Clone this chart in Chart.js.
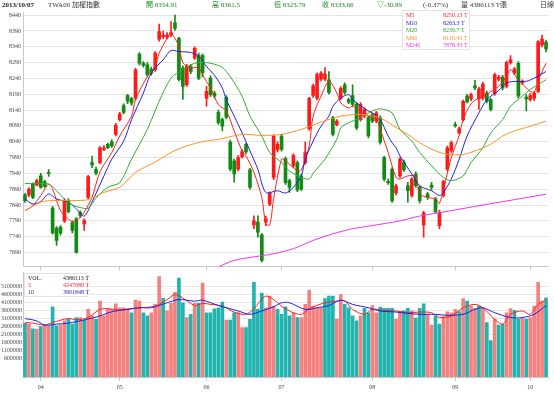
<!DOCTYPE html>
<html>
<head>
<meta charset="utf-8">
<script src="https://cdn.jsdelivr.net/npm/chart.js@4.4.0/dist/chart.umd.min.js"></script>
<style>
  body { margin: 0; background: #fff; }
  #page { position: relative; width: 554px; height: 397px; overflow: hidden; font-family: 'Liberation Serif', 'Noto Sans CJK TC', serif; }
  canvas { position: absolute; left: 0; }
  .hd { position: absolute; top: 1px; font-size: 7px; line-height: 9px; white-space: nowrap; color: #333; }
  .dn { color: #1a8a1a; }
  .lg { position: absolute; background: rgba(255,255,255,0.92); border: 1px solid #e2e2e2; font-size: 6px; line-height: 7px; z-index: 2; }
  .lg span { position: absolute; white-space: nowrap; }
</style>
</head>
<body>
<div id="page">
  <canvas id="priceChart" width="554" height="272" style="top:0"></canvas>
  <canvas id="volChart" width="554" height="129" style="top:268px"></canvas>

  <div class="hd" style="left:2px;font-weight:bold;color:#222">2013/10/07</div>
  <div class="hd" style="left:48px">TWA00 加權指數</div>
  <div class="hd dn" style="left:146px">開 8354.91</div>
  <div class="hd dn" style="left:212px">高 8361.5</div>
  <div class="hd dn" style="left:274px">低 8323.79</div>
  <div class="hd dn" style="left:322px">收 8333.66</div>
  <div class="hd dn" style="left:377px">▽-30.89</div>
  <div class="hd" style="left:423px">(-0.37%)</div>
  <div class="hd" style="left:461px">量 4386113 T張</div>
  <div class="hd" style="left:540px">日線</div>

  <div class="lg" style="left:402px;top:10px;width:66px;height:38px">
    <span style="left:3px;top:1px;color:#ff2020">M5</span><span style="left:40px;top:1px;color:#ff2020">8250.13 T</span>
    <span style="left:3px;top:8.5px;color:#2020dd">M10</span><span style="left:40px;top:8.5px;color:#2020dd">8263.3 T</span>
    <span style="left:3px;top:16px;color:#33aa33">M20</span><span style="left:40px;top:16px;color:#33aa33">8239.7 T</span>
    <span style="left:3px;top:23.5px;color:#ff9020">M60</span><span style="left:40px;top:23.5px;color:#ff9020">8110.45 T</span>
    <span style="left:3px;top:31px;color:#ee33ee">M240</span><span style="left:40px;top:31px;color:#ee33ee">7878.33 T</span>
  </div>

  <div class="lg" style="left:24px;top:273px;width:62px;height:22px">
    <span style="left:3px;top:1px;color:#222">VOL.</span><span style="left:38px;top:1px;color:#222">4386113 T</span>
    <span style="left:3px;top:8px;color:#ff2020">5</span><span style="left:38px;top:8px;color:#ff2020">4247089 T</span>
    <span style="left:3px;top:15px;color:#2020dd">10</span><span style="left:38px;top:15px;color:#2020dd">3901848 T</span>
  </div>
</div>

<script>
// trading days shown (late March to 7 Oct 2013)
const tradeDays = [
    ['03', [26, 27, 28, 29]],
    ['04', [1, 2, 3, 8, 9, 10, 11, 12, 15, 16, 17, 18, 19, 22, 23, 24, 25, 26, 29, 30]],
    ['05', [2, 3, 6, 7, 8, 9, 10, 13, 14, 15, 16, 17, 20, 21, 22, 23, 24, 27, 28, 29, 30, 31]],
    ['06', [3, 4, 5, 6, 7, 10, 11, 13, 14, 17, 18, 19, 20, 21, 24, 25, 26, 27, 28]],
    ['07', [1, 2, 3, 4, 5, 8, 9, 10, 11, 12, 15, 16, 17, 18, 19, 22, 23, 24, 25, 26, 29, 30, 31]],
    ['08', [1, 2, 5, 6, 7, 8, 9, 12, 13, 14, 15, 16, 19, 20, 22, 23, 26, 27, 28, 29, 30]],
    ['09', [2, 3, 4, 5, 6, 9, 10, 11, 12, 13, 16, 17, 18, 23, 24, 25, 26, 27, 30]],
    ['10', [1, 2, 3, 4, 7]]
];

const opens = [
    7872, 7872, 7906, 7903, 7932, 7914, 7943, 7830, 7767, 7770,
    7789, 7854, 7784, 7796, 7817, 7780, 7864, 7974, 7953, 7974,
    8016, 8032, 8040, 8063, 8110, 8154, 8186, 8176, 8178, 8317,
    8288, 8283, 8270, 8268, 8364, 8372, 8370, 8377, 8416, 8367,
    8273, 8220, 8278, 8304, 8314, 8312, 8178, 8241, 8194, 8133,
    8110, 8180, 8039, 7980, 7953, 7993, 8032, 7951, 7777, 7786,
    7746, 7786, 7843, 7927, 8014, 8058, 7987, 7917, 7964, 7974,
    7932, 7974, 8081, 8186, 8178, 8238, 8238, 8236, 8116, 8094,
    8178, 8220, 8173, 8186, 8158, 8110, 8121, 8116, 8126, 8105,
    8116, 7990, 7914, 7953, 7878, 7932, 7976, 7901, 7870, 7938,
    7896, 7777, 7875, 7903, 7859, 7775, 7870, 7953, 8011, 8094,
    8068, 8110, 8184, 8175, 8217, 8175, 8178, 8194, 8173, 8192,
    8238, 8244, 8215, 8290, 8257, 8288, 8226, 8181, 8173, 8178,
    8199, 8346, 8354.91
];
const highs = [
    7877, 7895, 7910, 7922, 7940, 7918, 7952, 7836, 7772, 7775,
    7860, 7860, 7790, 7800, 7822, 7796, 7934, 7995, 7960, 8025,
    8028, 8036, 8046, 8098, 8133, 8160, 8190, 8180, 8272, 8322,
    8293, 8290, 8276, 8325, 8412, 8390, 8385, 8420, 8440, 8370,
    8280, 8285, 8285, 8340, 8320, 8318, 8215, 8248, 8200, 8140,
    8115, 8186, 8045, 7985, 7996, 8015, 8036, 7956, 7806, 7806,
    7750, 7805, 7882, 8062, 8040, 8064, 7992, 7922, 8002, 7980,
    7938, 8040, 8180, 8222, 8258, 8262, 8274, 8262, 8120, 8110,
    8214, 8226, 8178, 8220, 8164, 8164, 8148, 8120, 8130, 8136,
    8122, 7995, 7922, 7958, 7906, 7990, 7982, 7912, 7927, 7945,
    7900, 7820, 7880, 7912, 7864, 7824, 7918, 8026, 8042, 8102,
    8086, 8172, 8190, 8194, 8234, 8212, 8228, 8200, 8178, 8257,
    8250, 8250, 8295, 8312, 8275, 8293, 8236, 8189, 8192, 8198,
    8360, 8377, 8361.5
];
const lows = [
    7848, 7866, 7860, 7900, 7893, 7896, 7930, 7748, 7712, 7745,
    7785, 7815, 7752, 7688, 7800, 7760, 7860, 7958, 7935, 7970,
    8012, 8018, 8022, 8058, 8105, 8128, 8160, 8155, 8172, 8282,
    8276, 8245, 8250, 8262, 8358, 8366, 8365, 8372, 8392, 8232,
    8174, 8215, 8255, 8300, 8236, 8246, 8152, 8183, 8178, 8095,
    8074, 8112, 7948, 7912, 7948, 7988, 8002, 7890, 7765, 7738,
    7660, 7775, 7838, 7920, 8008, 8010, 7905, 7880, 7958, 7882,
    7885, 7968, 8076, 8180, 8172, 8232, 8232, 8190, 8058, 8090,
    8172, 8190, 8160, 8152, 8078, 8105, 8116, 8052, 8100, 8100,
    8032, 7916, 7905, 7848, 7872, 7927, 7946, 7849, 7865, 7896,
    7846, 7738, 7858, 7888, 7814, 7765, 7865, 7948, 8006, 8086,
    8063, 8105, 8163, 8170, 8204, 8142, 8172, 8163, 8137, 8186,
    8232, 8204, 8210, 8285, 8252, 8178, 8220, 8137, 8168, 8170,
    8195, 8340, 8323.79
];
const closes = [
    7854, 7890, 7864, 7917, 7896, 7899, 7940, 7752, 7728, 7751,
    7854, 7819, 7760, 7690, 7807, 7791, 7930, 7967, 7941, 8021,
    8021, 8021, 8027, 8092, 8128, 8133, 8168, 8163, 8267, 8288,
    8281, 8252, 8257, 8320, 8388, 8377, 8377, 8385, 8398, 8236,
    8215, 8278, 8262, 8335, 8241, 8258, 8199, 8189, 8184, 8100,
    8089, 8118, 7953, 7938, 7990, 8009, 8008, 7896, 7790, 7754,
    7665, 7796, 7878, 8058, 8032, 8016, 7911, 7896, 7997, 7888,
    7890, 8006, 8176, 8217, 8252, 8257, 8254, 8196, 8063, 8105,
    8209, 8196, 8165, 8158, 8084, 8158, 8142, 8058, 8105, 8131,
    8039, 7922, 7911, 7854, 7901, 7985, 7951, 7885, 7922, 7901,
    7854, 7815, 7864, 7896, 7819, 7816, 7914, 8021, 8037, 8090,
    8081, 8168, 8166, 8189, 8210, 8207, 8222, 8168, 8142, 8252,
    8244, 8210, 8290, 8299, 8270, 8184, 8231, 8175, 8186, 8193,
    8356, 8364.55, 8333.66
];
const volumes = [
    2800000, 2750000, 2450000, 2440000, 2600000, 2700000, 2650000, 3830000, 2650000, 2700000,
    2950000, 3050000, 2750000, 3150000, 3150000, 3000000, 3670000, 3260000, 3050000, 4180000,
    3260000, 3700000, 3670000, 4020000, 3770000, 3770000, 3710000, 3460000, 4240000, 4180000,
    3460000, 3260000, 3460000, 3980000, 5710000, 4360000, 3570000, 4040000, 4730000, 5610000,
    4080000, 3160000, 3360000, 4040000, 4040000, 5300000, 3460000, 3460000, 3700000, 3770000,
    4120000, 3000000, 3000000, 3460000, 3460000, 2540000, 2540000, 3050000, 5350000, 3670000,
    4690000, 3770000, 4490000, 3870000, 3670000, 3360000, 3830000, 3260000, 3460000, 3160000,
    3160000, 3980000, 4860000, 3870000, 3770000, 3770000, 4340000, 4490000, 4490000, 3060000,
    4590000, 3980000, 3770000, 3260000, 2950000, 3260000, 3730000, 3460000, 3910000, 3460000,
    3810000, 3730000, 3730000, 3730000, 3060000, 3550000, 3570000, 3730000, 3570000, 3120000,
    3730000, 4020000, 3360000, 2690000, 3260000, 2750000, 3220000, 3510000, 3460000, 3670000,
    3530000, 4340000, 4180000, 3870000, 3730000, 3870000, 3730000, 2850000, 1730000, 3060000,
    2690000, 2750000, 3460000, 3710000, 3610000, 3060000, 3160000, 3060000, 3160000, 3870000,
    5350000, 4180000, 4386113
];

// moving averages: [day index, value]
const ma5 = [[0, 7822], [2, 7838], [4, 7870], [6, 7906], [7, 7890], [9, 7822], [11, 7796], [12, 7786], [14, 7801],
    [15, 7817], [17, 7865], [19, 7945], [22, 8006], [24, 8058], [27, 8121], [28, 8173], [31, 8246], [33, 8278],
    [34, 8320], [36, 8367], [37, 8383], [39, 8341], [40, 8290], [42, 8273], [44, 8275], [45, 8250], [47, 8210],
    [49, 8157], [51, 8137], [53, 8074], [55, 8011], [56, 7995], [58, 7943], [60, 7864], [61, 7781], [62, 7777],
    [63, 7860], [65, 7985], [66, 7980], [67, 7969], [69, 7948], [70, 7950], [72, 8027], [73, 8121], [75, 8184],
    [77, 8231], [79, 8194], [80, 8163], [82, 8147], [83, 8152], [85, 8137], [87, 8121], [89, 8110], [90, 8079],
    [92, 8006], [94, 7927], [95, 7922], [97, 7932], [99, 7930], [100, 7875], [102, 7864], [104, 7859], [105, 7845],
    [107, 7940], [108, 7990], [110, 8060], [111, 8110], [113, 8160], [115, 8178], [117, 8189], [118, 8199],
    [120, 8215], [122, 8246], [123, 8268], [125, 8236], [127, 8210], [128, 8199], [129, 8197], [130, 8231],
    [131, 8262], [132, 8288]];
const ma10 = [[0, 7859], [2, 7843], [4, 7851], [6, 7875], [8, 7859], [11, 7849], [13, 7828], [15, 7805], [17, 7850],
    [20, 7932], [22, 7985], [25, 8042], [27, 8110], [30, 8194], [32, 8257], [35, 8299], [37, 8328], [39, 8325],
    [42, 8322], [44, 8310], [46, 8278], [48, 8250], [50, 8210], [51, 8173], [53, 8121], [55, 8068], [57, 8011],
    [59, 7953], [61, 7880], [64, 7885], [66, 7878], [68, 7896], [70, 7932], [71, 7985], [73, 8042], [75, 8089],
    [77, 8121], [78, 8152], [80, 8178], [82, 8189], [83, 8173], [85, 8154], [87, 8137], [88, 8131], [90, 8110],
    [92, 8058], [93, 8037], [94, 8021], [95, 7995], [98, 7938], [100, 7901], [103, 7885], [105, 7870], [106, 7880],
    [108, 7922], [110, 7985], [112, 8058], [115, 8131], [117, 8173], [120, 8202], [122, 8226], [125, 8231],
    [127, 8231], [129, 8241], [132, 8262]];
const ma20 = [[0, 7908], [3, 7908], [6, 7906], [8, 7885], [10, 7859], [12, 7840], [14, 7832], [16, 7830], [18, 7862],
    [21, 7896], [24, 7911], [27, 7985], [31, 8079], [34, 8168], [37, 8241], [40, 8268], [43, 8288], [46, 8290],
    [48, 8285], [50, 8275], [52, 8246], [55, 8184], [57, 8121], [60, 8058], [62, 8006], [65, 7974], [67, 7948],
    [70, 7927], [72, 7922], [73, 7940], [76, 7985], [79, 8048], [80, 8084], [82, 8100], [85, 8116], [88, 8137],
    [90, 8144], [93, 8131], [95, 8079], [98, 8042], [100, 8006], [103, 7964], [106, 7927], [108, 7917],
    [111, 7932], [113, 7974], [116, 8021], [118, 8068], [121, 8110], [123, 8152], [126, 8184], [128, 8205],
    [132, 8236]];
const ma60 = [[0, 7822], [4, 7849], [7, 7854], [12, 7854], [16, 7857], [20, 7880], [24, 7896], [28, 7943], [33, 7976],
    [37, 8006], [41, 8027], [45, 8040], [50, 8050], [55, 8063], [60, 8060], [65, 8063], [70, 8079], [75, 8102],
    [80, 8121], [85, 8126], [90, 8115], [94, 8085], [97, 8063], [100, 8037], [104, 8011], [107, 8000], [111, 8000],
    [114, 8011], [118, 8032], [121, 8058], [124, 8074], [128, 8089], [132, 8105]];
const ma240 = [[44, 7620], [48, 7639], [53, 7665], [58, 7676], [63, 7686], [68, 7702], [73, 7728], [78, 7749],
    [83, 7765], [88, 7775], [95, 7790], [100, 7805], [107, 7820], [116, 7840], [124, 7857], [132, 7874]];

// volume moving averages, millions of lots
const vma5 = [[0, 2.85], [2, 2.81], [5, 2.69], [7, 2.85], [11, 3.10], [13, 3.02], [16, 3.16], [19, 3.67], [21, 3.71],
    [24, 3.63], [27, 3.71], [29, 3.77], [33, 3.87], [36, 4.28], [38, 4.59], [40, 4.38], [43, 3.91], [45, 4.04],
    [47, 3.98], [50, 3.87], [53, 3.50], [56, 3.36], [58, 3.71], [61, 4.49], [64, 4.10], [65, 3.85], [68, 3.46],
    [70, 3.36], [72, 3.71], [76, 4.08], [79, 4.18], [81, 4.20], [83, 3.67], [86, 3.36], [88, 3.67], [91, 3.60],
    [94, 3.57], [97, 3.46], [100, 3.50], [103, 3.46], [105, 3.16], [108, 3.26], [111, 3.77], [114, 3.98],
    [116, 3.77], [119, 3.05], [121, 2.75], [123, 3.36], [126, 3.57], [128, 3.36], [130, 3.98], [132, 4.247]];
const vma10 = [[0, 3.10], [3, 2.95], [5, 2.69], [8, 2.75], [11, 2.81], [15, 3.01], [19, 3.26], [22, 3.52], [26, 3.67],
    [29, 3.77], [32, 3.77], [36, 4.08], [39, 4.28], [43, 4.18], [45, 4.24], [49, 3.91], [54, 3.57], [57, 3.36],
    [60, 3.57], [63, 3.83], [65, 4.08], [67, 4.08], [71, 3.67], [74, 3.77], [77, 3.91], [80, 4.24], [83, 3.98],
    [87, 3.77], [90, 3.57], [94, 3.50], [97, 3.42], [100, 3.36], [104, 3.36], [107, 3.30], [111, 3.36], [114, 3.67],
    [116, 3.77], [119, 3.46], [123, 3.16], [126, 3.16], [129, 3.36], [132, 3.902]];

const priceTicks = [7690, 7740, 7790, 7840, 7890, 7940, 7990, 8040, 8090, 8140, 8190, 8240, 8290, 8340, 8390, 8440];
const volTicks = [600000, 1100000, 1600000, 2100000, 2600000, 3100000, 3600000, 4100000, 4600000, 5100000];

document.addEventListener('DOMContentLoaded', function () {

    const UP = '#ff1a1a', DOWN = '#138a13';
    const VUP = '#f58080', VDOWN = '#1fb4ad';
    const tickFont = { family: "'Liberation Serif', serif", size: 6 };

    // category labels and month boundaries
    const dates = [];
    const monthStarts = [];
    tradeDays.forEach(([m, days]) => {
        days.forEach((d, k) => {
            if (k === 0 && dates.length > 0) monthStarts.push(dates.length);
            dates.push('2013/' + m + '/' + String(d).padStart(2, '0'));
        });
    });

    const toPoints = (pairs, k) => pairs.map(p => ({ x: dates[p[0]], y: p[1] * (k || 1) }));
    const maLine = (pairs, color, k) => ({
        type: 'line', data: toPoints(pairs, k), borderColor: color, borderWidth: 1,
        pointRadius: 0, tension: 0.3, spanGaps: true, order: 1
    });

    const xAxis = (showLabels, height) => ({
        offset: true,
        grid: { drawOnChartArea: false, drawTicks: true, tickLength: 4, color: '#c8c8c8', offset: false },
        border: { color: '#c8c8c8' },
        ticks: {
            display: showLabels, autoSkip: false, maxRotation: 0, font: tickFont, color: '#444', padding: 3,
            callback: v => dates[v].slice(5, 7)
        },
        afterBuildTicks: s => { s.ticks = monthStarts.map(i => ({ value: i })); },
        afterFit: s => { s.height = height; }
    });

    const commonOptions = {
        responsive: false,
        animation: false,
        events: [],
        plugins: { legend: { display: false }, tooltip: { enabled: false } }
    };

    // Price panel - candles built from floating bars
    new Chart(document.getElementById('priceChart').getContext('2d'), {
        type: 'bar',
        data: {
            labels: dates,
            datasets: [
                {
                    data: dates.map((d, i) => [lows[i], highs[i]]),
                    backgroundColor: closes.map((c, i) => c >= opens[i] ? UP : DOWN),
                    barThickness: 1, grouped: false, order: 3
                },
                {
                    data: dates.map((d, i) => [opens[i], closes[i]]),
                    backgroundColor: closes.map((c, i) => c >= opens[i] ? UP : DOWN),
                    barThickness: 3, minBarLength: 1, grouped: false, order: 2
                },
                maLine(ma240, '#ee33ee'),
                maLine(ma60, '#ff9020'),
                maLine(ma20, '#33aa33'),
                maLine(ma10, '#2020dd'),
                maLine(ma5, '#ff2020')
            ]
        },
        options: {
            ...commonOptions,
            layout: { padding: { top: 12, right: 6, bottom: 0, left: 0 } },
            scales: {
                x: xAxis(false, 4),
                y: {
                    min: 7646, max: 8450,
                    afterBuildTicks: s => { s.ticks = priceTicks.map(v => ({ value: v })); },
                    afterFit: s => { s.width = 23; },
                    grid: { color: '#e4e4e4', drawTicks: false },
                    border: { color: '#c8c8c8' },
                    ticks: { font: tickFont, color: '#445', padding: 2, callback: v => String(v) }
                }
            }
        }
    });

    // Volume panel
    const volMin = -544200, volMax = 5958900;
    new Chart(document.getElementById('volChart').getContext('2d'), {
        type: 'bar',
        data: {
            labels: dates,
            datasets: [
                {
                    data: volumes,
                    backgroundColor: closes.map((c, i) => (i > 0 ? c >= closes[i - 1] : c >= opens[i]) ? VUP : VDOWN),
                    base: volMin, barThickness: 3, grouped: false, order: 2
                },
                maLine(vma10, '#2020dd', 1e6),
                maLine(vma5, '#ff2020', 1e6)
            ]
        },
        options: {
            ...commonOptions,
            layout: { padding: { top: 3, right: 6, bottom: 0, left: 0 } },
            scales: {
                x: xAxis(true, 20),
                y: {
                    min: volMin, max: volMax,
                    afterBuildTicks: s => { s.ticks = volTicks.map(v => ({ value: v })); },
                    afterFit: s => { s.width = 23; },
                    grid: { color: '#e8e8e8', drawTicks: false },
                    border: { color: '#c8c8c8' },
                    ticks: { font: tickFont, color: '#445', padding: 1, callback: v => String(v) }
                }
            }
        }
    });
});
</script>
</body>
</html>
